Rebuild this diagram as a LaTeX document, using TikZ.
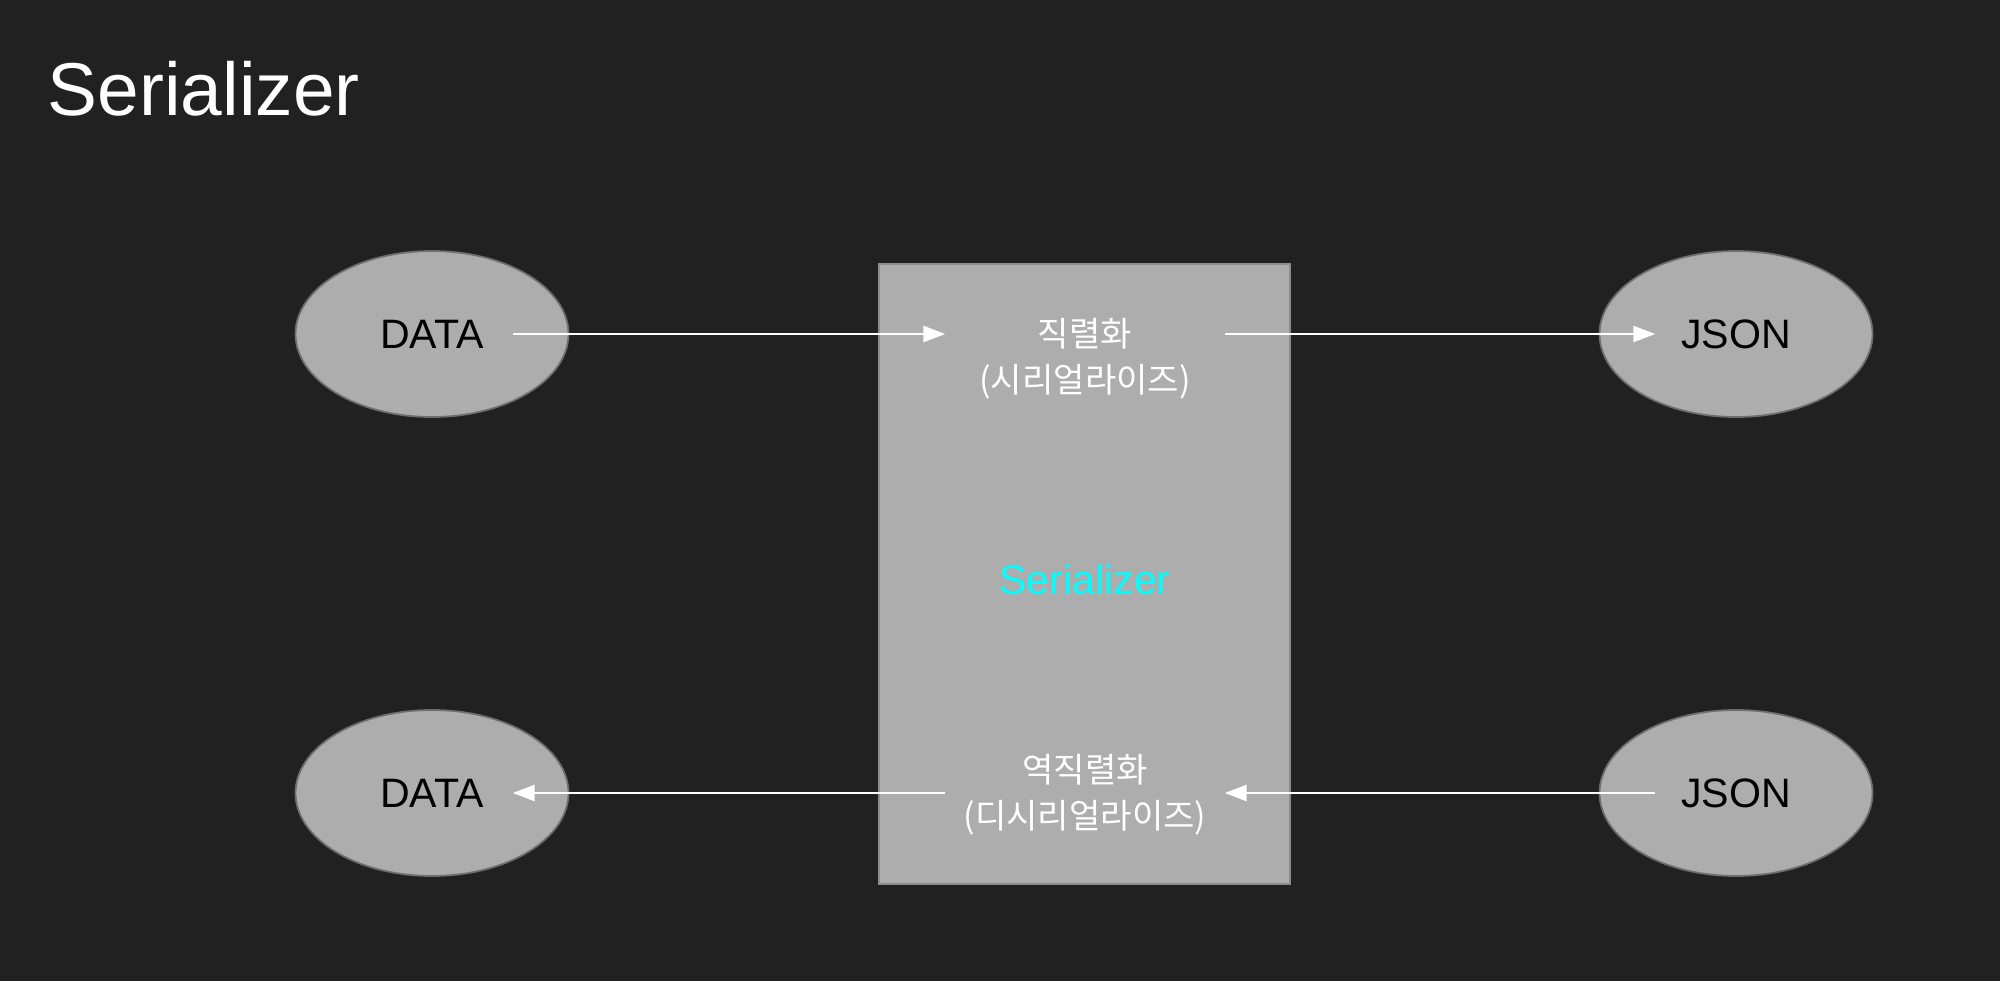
\documentclass[tikz,border=0pt]{standalone}
\usepackage{fontspec}
\setmainfont{Liberation Sans}
\newfontfamily\kor{Noto Sans CJK KR}
\usetikzlibrary{arrows.meta,shapes.geometric}
\definecolor{bgdark}{HTML}{212121}
\definecolor{blobgray}{HTML}{ADADAD}
\definecolor{blobedge}{HTML}{6E6E6E}
\definecolor{boxedge}{HTML}{8C8C8C}
\definecolor{serialcyan}{HTML}{00FFFF}
\begin{document}
\begin{tikzpicture}[
  blob/.style={ellipse,fill=blobgray,draw=blobedge,line width=0.5pt,minimum width=2.73cm,minimum height=1.66cm},
  word/.style={inner sep=0pt,minimum width=1.6cm,font=\fontsize{11.7}{14}\selectfont},
  steplbl/.style={inner sep=0pt,minimum width=2.78cm,align=center,text=white,font=\kor\fontsize{9.7}{13}\selectfont},
  flow/.style={draw=white,line width=0.75pt,-{Triangle[length=0.22cm,width=0.16cm]}}]
  \fill[bgdark] (0,0) rectangle (20,-9.81);
  \node[anchor=base west,text=white,inner sep=0pt,font=\fontsize{21.3}{25}\selectfont] (title) at (0.47,-1.15) {Serializer};
  \node[rectangle,fill=blobgray,draw=boxedge,line width=0.6pt,minimum width=4.11cm,minimum height=6.2cm] (box) at (10.845,-5.74) {};
  \node[blob] (dataA) at (4.32,-3.34) {};
  \node[blob] (jsonA) at (17.36,-3.34) {};
  \node[blob] (dataB) at (4.32,-7.93) {};
  \node[blob] (jsonB) at (17.36,-7.93) {};
  \node[word] (dataAt) at (dataA) {DATA};
  \node[word] (jsonAt) at (jsonA) {JSON};
  \node[word] (dataBt) at (dataB) {DATA};
  \node[word] (jsonBt) at (jsonB) {JSON};
  \node[steplbl] (ser) at (10.85,-3.59) {직렬화\\(시리얼라이즈)};
  \node[steplbl] (deser) at (10.85,-7.95) {역직렬화\\(디시리얼라이즈)};
  \node[text=serialcyan,font=\fontsize{11.7}{14}\selectfont] (boxname) at (10.85,-5.80) {Serializer};
  \draw[flow] (dataAt.east) -- (ser.west |- dataAt.east);
  \draw[flow] (ser.east |- jsonAt.west) -- (jsonAt.west);
  \draw[flow] (deser.west |- dataBt.east) -- (dataBt.east);
  \draw[flow] (jsonBt.west) -- (deser.east |- jsonBt.west);
\end{tikzpicture}
\end{document}
